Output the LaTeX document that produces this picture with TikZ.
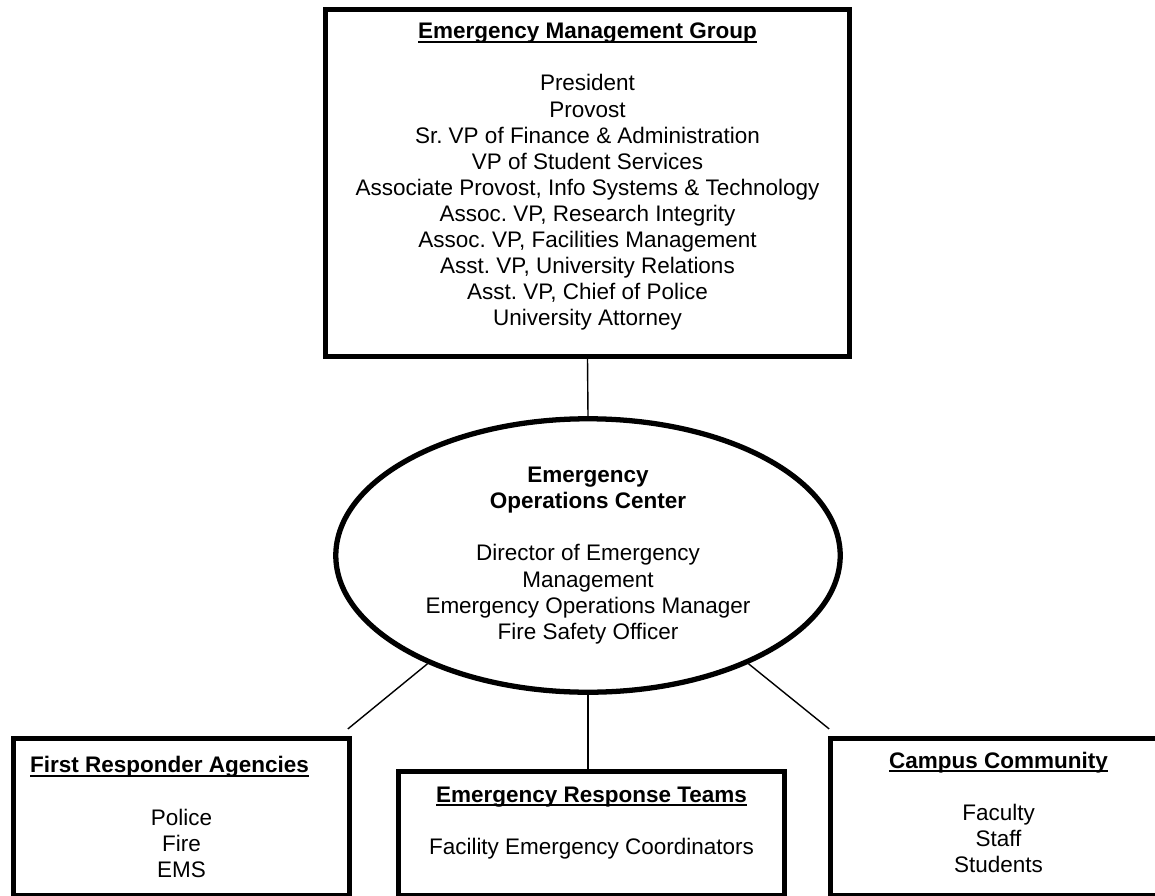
\documentclass[tikz,border=0pt]{standalone}
\usepackage{fontspec}
\setmainfont{Liberation Sans}
\usetikzlibrary{shapes.geometric}
\frenchspacing
\newcommand{\uhead}[1]{{\sbox0{\bfseries #1}\rlap{\rule[-0.17em]{\wd0}{0.08em}}\usebox0}}
\newcommand{\chartfont}{\fontsize{12.8pt}{14.86pt}\selectfont\frenchspacing}

\begin{document}
\begin{tikzpicture}[
  x=0.02cm, y=-0.02cm,
  group/.style={draw, rectangle, line width=3pt, inner sep=0pt},
  hub/.style={draw, ellipse, line width=3pt, inner sep=0pt, align=center, font=\chartfont},
  txt/.style={align=center, inner sep=0pt, font=\chartfont},
  link/.style={line width=0.8pt}
]
  \useasboundingbox (0,0) rectangle (1155,895);
  \clip (0,0) rectangle (1155,895);
  % boxes, the lower three run off the bottom of the page
  \node[group, minimum width=10.48cm, minimum height=6.94cm] (emg) at (587.5,183) {};
  \node[group, minimum width=6.71cm, minimum height=3.15cm] (fra) at (181.5,817.3) {};
  \node[group, minimum width=7.71cm, minimum height=2.49cm] (ert) at (591.5,833.8) {};
  \node[group, minimum width=6.71cm, minimum height=3.15cm] (cc) at (998.5,817.3) {};
  \node[hub, minimum width=10.09cm, minimum height=5.47cm] (eoc) at (588,555.5)
    {\textbf{Emergency}\\\textbf{Operations Center}\\[\baselineskip]Director of Emergency\\Management\\Emergency Operations Manager\\Fire Safety Officer};
  \node[txt] (emgtxt) at (587.5,176.8) {\uhead{Emergency Management Group}\\[\baselineskip]President\\Provost\\Sr. VP of Finance \& Administration\\VP of Student Services\\Associate Provost, Info Systems \& Technology\\Assoc. VP, Research Integrity\\Assoc. VP, Facilities Management\\Asst. VP, University Relations\\Asst. VP, Chief of Police\\University Attorney};
  \node[txt] (fratxt) at (181.5,817) {\uhead{First Responder Agencies}\hspace*{0.48cm}\\[\baselineskip]Police\\Fire\\EMS};
  \node[txt] (erttxt) at (591.5,822.8) {\uhead{Emergency Response Teams}\\[\baselineskip]Facility Emergency Coordinators};
  \node[txt] (cctxt) at (998.5,812.5) {\uhead{Campus Community}\\[\baselineskip]Faculty\\Staff\\Students};
  \draw[link] (emg.south) -- (eoc.north);
  \draw[link] (eoc.214.5) -- ([shift={(-4,-7)}]fra.north east);
  \draw[link] (eoc.south) -- (eoc.south |- ert.north);
  \draw[link] (eoc.326.3) -- ([shift={(1,-7)}]cc.north west);
\end{tikzpicture}
\end{document}
